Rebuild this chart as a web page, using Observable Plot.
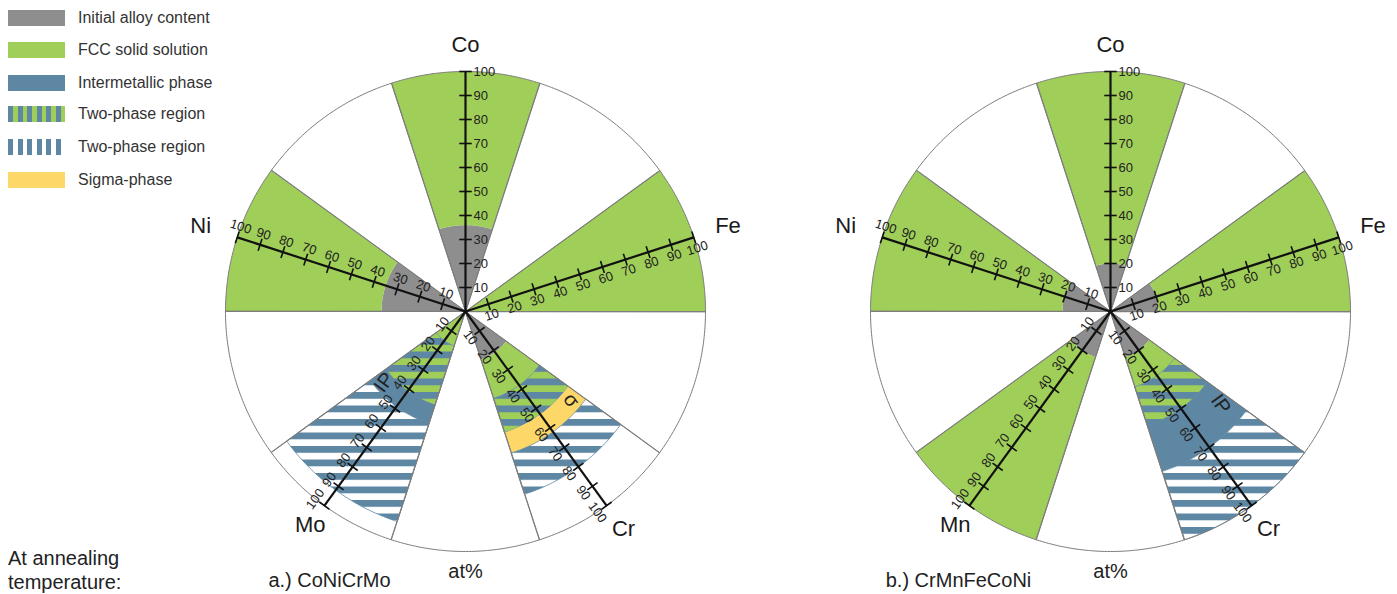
<!DOCTYPE html>
<html><head><meta charset="utf-8">
<script src="https://cdn.jsdelivr.net/npm/d3@7"></script>
<script src="https://cdn.jsdelivr.net/npm/@observablehq/plot@0.6"></script>
<style>
html,body{margin:0;padding:0;background:#fff;}
body{font-family:"Liberation Sans",Arial,Helvetica,sans-serif;color:#222;}
#wrap{position:relative;width:1397px;height:594px;overflow:hidden;background:#fff;}
.chart{position:absolute;top:0;}
.chart svg{background:transparent;overflow:visible;max-width:none;}
#legend{position:absolute;left:0;top:0;z-index:2;}
.lrow{position:absolute;left:8px;height:16px;display:flex;align-items:center;white-space:nowrap;}
.sw{width:57px;height:16px;margin-right:13px;flex:none;}
.lt{font-size:16px;color:#333;}
#note{position:absolute;left:8px;top:546px;font-size:20px;line-height:24px;color:#222;}
</style></head>
<body>
<div id="wrap">
  <div id="chartA" class="chart" style="left:145px"></div>
  <div id="chartB" class="chart" style="left:790px"></div>
  <div id="legend"></div>
  <div id="note">At annealing<br>temperature:</div>
</div>
<script>
// ---------- data ----------
const legendLabels = ["Initial alloy content","FCC solid solution","Intermetallic phase","Two-phase region","Two-phase region","Sigma-phase"];
const legendPhases = ["gray","fcc","ip","fccIp","ipWhite","sigma"];

const axisAngles = [90, 18, 306, 234, 162];           // degrees, one per element axis
const axisNamesA = ["Co","Fe","Cr","Mo","Ni"];
const axisNamesB = ["Co","Fe","Cr","Mn","Ni"];
const tickValues = [10,20,30,40,50,60,70,80,90,100];

// a.) CoNiCrMo  (at% ranges along each axis)
const bandElemA  = ["Co","Co","Fe","Cr","Cr","Cr","Cr","Cr","Mo","Mo","Mo","Mo","Ni","Ni"];
const bandFromA  = [0, 36, 0,  0, 21, 38, 53, 62,  0, 15, 41, 49,  0, 35];
const bandToA    = [36,100,100,21, 38, 53, 62, 80, 15, 41, 49, 92, 35,100];
const bandPhaseA = ["gray","fcc","fcc","gray","fcc","fccIp","sigma","ipWhite","fcc","fccIp","ip","ipWhite","gray","fcc"];
const phaseTextA = ["IP","σ"];
const phaseElemA = ["Mo","Cr"];
const phaseAtA   = [45, 57.5];

// b.) CrMnFeCoNi
const bandElemB  = ["Co","Co","Fe","Fe","Cr","Cr","Cr","Cr","Cr","Mn","Mn","Ni","Ni"];
const bandFromB  = [0, 20, 0, 20,  0, 20, 33, 50, 70,  0, 20,  0, 20];
const bandToB    = [20,100,20,100, 20, 33, 50, 70,100, 20,100, 20,100];
const bandPhaseB = ["gray","fcc","gray","fcc","gray","fcc","fccIp","ip","ipWhite","gray","fcc","gray","fcc"];
const phaseTextB = ["IP"];
const phaseElemB = ["Cr"];
const phaseAtB   = [60];

const captionA = "a.) CoNiCrMo";
const captionB = "b.) CrMnFeCoNi";
const unitLabel = "at%";

// ---------- styling / layout ----------
const GREEN = "#9fcf58", BLUE = "#5e87a4", GRAY = "#8e8e8e", YELLOW = "#fdd768";
const PX = 2.4;          // pixels per at%
const H = 594, CY = 311, CX = 320;
const nameRadius = [111, 115, 112, 110, 116];
const phaseAngleOffset = {Mo: -13, Cr: 14, Mn: -13};

function polar(r, deg){ const a = deg*Math.PI/180; return [r*Math.cos(a), r*Math.sin(a)]; }
function textRot(deg){
  if (deg === 90) return 0;
  const c = Math.cos(deg*Math.PI/180);
  return c >= 0 ? -deg : -(deg-180);
}
function sectorPts(r0, r1, a0, a1, id, extra){
  const pts = [], n = 48;
  for (let i=0;i<=n;i++){ const [x,y] = polar(r1, a0+(a1-a0)*i/n); pts.push({id,x,y,...extra}); }
  if (r0 <= 0) pts.push({id,x:0,y:0,...extra});
  else for (let i=n;i>=0;i--){ const [x,y] = polar(r0, a0+(a1-a0)*i/n); pts.push({id,x,y,...extra}); }
  return pts;
}

function makeChart(el, key, width, names, bEl, bFrom, bTo, bPhase, pText, pElem, pAt, caption, captionX){
  const angleOf = {};
  names.forEach((n,i)=> angleOf[n] = axisAngles[i]);
  const fillOf = {gray: GRAY, fcc: GREEN, ip: BLUE, sigma: YELLOW,
                  fccIp: `url(#${key}fccIp)`, ipWhite: `url(#${key}ipWhite)`};
  const strokeOf = {gray: "none", fcc: "none", ip: BLUE, sigma: "none", fccIp: BLUE, ipWhite: BLUE};

  // bands
  let bandPts = [];
  bEl.forEach((e,i)=>{
    const a = angleOf[e];
    bandPts = bandPts.concat(sectorPts(bFrom[i], bTo[i], a-18, a+18, key+"b"+i, {phase: bPhase[i]}));
  });
  const phases = ["gray","fcc","fccIp","ip","sigma","ipWhite"];
  const bandMarks = phases.map(ph => Plot.line(bandPts.filter(d=>d.phase===ph), {
    x:"x", y:"y", z:"id", curve:"linear-closed", fill: fillOf[ph],
    stroke: strokeOf[ph], strokeWidth: 0.9, strokeOpacity: 0.9
  }));

  // sector outlines (10 sectors of 36°)
  let secPts = [];
  for (let k=0;k<10;k++) secPts = secPts.concat(sectorPts(0, 100, 36*k, 36*(k+1), key+"s"+k, {}));

  // axes, ticks, tick labels
  const axes = names.map((n,i)=>{ const [x,y] = polar(100, axisAngles[i]); return {x1:0,y1:0,x2:x,y2:y}; });
  const ticks = [], tlab = [], tlabCo = [];
  names.forEach((n,i)=>{
    const a = axisAngles[i];
    const [ux,uy] = polar(1, a-90);
    tickValues.forEach(v=>{
      const [px,py] = polar(v, a);
      ticks.push({x1:px-2.6*ux, y1:py-2.6*uy, x2:px+2.6*ux, y2:py+2.6*uy});
      if (a === 90) tlabCo.push({x:px+3.3*ux, y:py+3.3*uy, t:String(v)});
      else tlab.push({x:px+4.7*ux, y:py+4.7*uy, t:String(v), rot:textRot(a)});
    });
  });
  const nameLab = names.map((n,i)=>{ const [x,y]=polar(nameRadius[i], axisAngles[i]); return {x,y,t:n}; });
  const phLab = pText.map((t,i)=>{
    const a = angleOf[pElem[i]] + phaseAngleOffset[pElem[i]];
    const [x,y] = polar(pAt[i], a);
    return {x,y,t,rot:textRot(angleOf[pElem[i]])};
  });

  const svg = Plot.plot({
    width, height: H, margin: 0,
    x: {domain: [-CX/PX, (width-CX)/PX], axis: null},
    y: {domain: [-(H-CY)/PX, CY/PX], axis: null},
    style: {fontFamily: "Liberation Sans, Arial, sans-serif", background: "transparent", overflow: "visible"},
    marks: [
      ...bandMarks,
      Plot.line(secPts, {x:"x", y:"y", z:"id", curve:"linear-closed", fill:"none", stroke:"#7d7d7d", strokeWidth:1}),
      Plot.link(axes, {x1:"x1", y1:"y1", x2:"x2", y2:"y2", stroke:"#111", strokeWidth:2.2}),
      Plot.link(ticks, {x1:"x1", y1:"y1", x2:"x2", y2:"y2", stroke:"#111", strokeWidth:1.6}),
      Plot.text(tlab, {x:"x", y:"y", text:"t", rotate:"rot", fontSize:13, fill:"#222"}),
      Plot.text(tlabCo, {x:"x", y:"y", text:"t", textAnchor:"start", fontSize:13, fill:"#222"}),
      Plot.text(phLab, {x:"x", y:"y", text:"t", rotate:"rot", fontSize:20, fill:"#222"}),
      Plot.text(nameLab, {x:"x", y:"y", text:"t", fontSize:22, fill:"#1a1a1a"}),
      Plot.text([unitLabel], {x:[0], y:[-(571-CY)/PX], text:d=>d, fontSize:20, fill:"#222"}),
      Plot.text([caption], {x:[captionX], y:[-(580-CY)/PX], text:d=>d, fontSize:20, fill:"#222"})
    ]
  });

  // stripe patterns (horizontal stripes)
  const defs = d3.select(svg).insert("defs", ":first-child");
  const P = 13.5, B = 6.8;
  const p1 = defs.append("pattern").attr("id", key+"fccIp").attr("patternUnits","userSpaceOnUse").attr("width",20).attr("height",P);
  p1.append("rect").attr("width",20).attr("height",P).attr("fill",GREEN);
  p1.append("rect").attr("width",20).attr("height",B).attr("fill",BLUE);
  const p2 = defs.append("pattern").attr("id", key+"ipWhite").attr("patternUnits","userSpaceOnUse").attr("width",20).attr("height",P);
  p2.append("rect").attr("width",20).attr("height",P).attr("fill","#fff");
  p2.append("rect").attr("width",20).attr("height",B).attr("fill",BLUE);

  document.getElementById(el).appendChild(svg);
}

makeChart("chartA", "A", 640, axisNamesA, bandElemA, bandFromA, bandToA, bandPhaseA, phaseTextA, phaseElemA, phaseAtA, captionA, (329-465)/PX);
makeChart("chartB", "B", 607, axisNamesB, bandElemB, bandFromB, bandToB, bandPhaseB, phaseTextB, phaseElemB, phaseAtB, captionB, (958-1110)/PX);

// ---------- legend ----------
const swatchBg = {
  gray: GRAY, fcc: GREEN, ip: BLUE, sigma: YELLOW,
  fccIp: `repeating-linear-gradient(90deg, ${BLUE} 0 5px, ${GREEN} 5px 9.6px)`,
  ipWhite: `repeating-linear-gradient(90deg, ${BLUE} 0 5px, #fff 5px 9.6px)`
};
const legendY = [18, 50, 83, 114, 147, 180];
const lg = d3.select("#legend");
legendLabels.forEach((t,i)=>{
  const row = lg.append("div").attr("class","lrow").style("top", (legendY[i]-8)+"px");
  row.append("div").attr("class","sw").style("background", swatchBg[legendPhases[i]]);
  row.append("div").attr("class","lt").text(t);
});
</script>
</body></html>
